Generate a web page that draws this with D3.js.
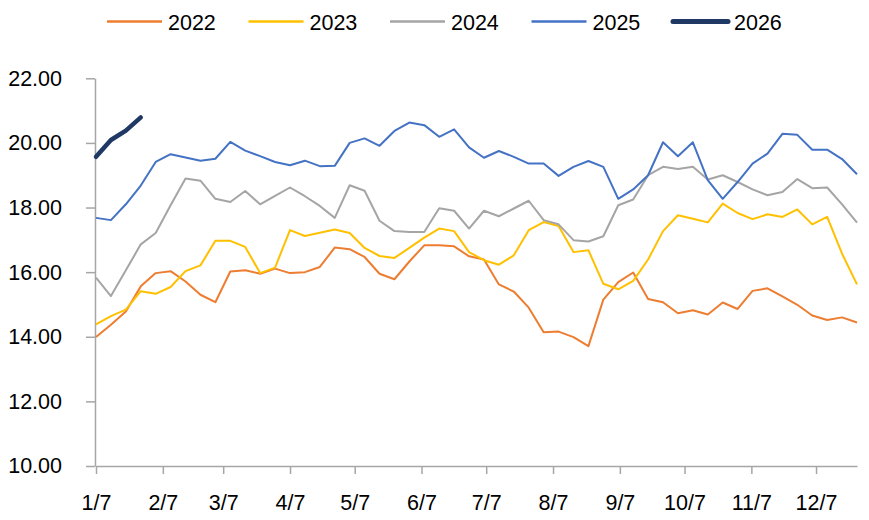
<!DOCTYPE html>
<html>
<head>
<meta charset="utf-8">
<script src="https://cdn.jsdelivr.net/npm/d3@7"></script>
<style>
  body { margin: 0; background: #fff; }
  svg text { font-family: "Liberation Sans", Arial, sans-serif; fill: #000; }
</style>
</head>
<body>
<div id="chart"></div>
<script>
// weekly values, one point per week starting 1/7
var years = ["2022", "2023", "2024", "2025", "2026"];
var colors = ["#ED7D31", "#FFC000", "#A5A5A5", "#4472C4", "#203864"];

var y2022 = [13.99,14.37,14.78,15.56,15.97,16.03,15.71,15.30,15.07,16.02,16.06,15.95,16.11,15.97,16.00,16.16,
  16.76,16.71,16.47,15.95,15.78,16.33,16.83,16.83,16.80,16.49,16.39,15.62,15.40,14.90,14.14,14.16,13.99,13.71,
  15.15,15.69,15.99,15.17,15.07,14.73,14.82,14.69,15.06,14.86,15.42,15.50,15.25,14.99,14.66,14.52,14.60,14.44];
var y2023 = [14.38,14.64,14.84,15.41,15.33,15.54,16.03,16.21,16.97,16.97,16.78,15.97,16.14,17.30,17.12,17.22,
  17.32,17.21,16.75,16.50,16.44,16.75,17.07,17.35,17.27,16.62,16.37,16.23,16.52,17.30,17.55,17.43,16.62,16.68,
  15.64,15.47,15.73,16.39,17.27,17.76,17.65,17.54,18.12,17.83,17.64,17.79,17.71,17.94,17.48,17.71,16.57,15.62];
var y2024 = [15.83,15.26,16.06,16.86,17.21,18.07,18.90,18.83,18.27,18.17,18.51,18.10,18.36,18.62,18.35,18.05,
  17.68,18.69,18.52,17.59,17.27,17.24,17.24,17.98,17.90,17.35,17.90,17.73,17.97,18.21,17.61,17.48,16.99,16.95,
  17.11,18.07,18.25,19.00,19.26,19.19,19.26,18.87,19.00,18.79,18.56,18.38,18.48,18.88,18.60,18.62,18.10,17.53];
var y2025 = [17.68,17.61,18.10,18.68,19.41,19.65,19.55,19.45,19.51,20.03,19.76,19.59,19.41,19.31,19.45,19.28,
  19.29,20.00,20.14,19.91,20.37,20.63,20.55,20.19,20.42,19.86,19.54,19.75,19.57,19.36,19.36,18.98,19.26,19.44,
  19.26,18.27,18.56,19.00,20.02,19.59,20.02,18.85,18.27,18.79,19.36,19.67,20.28,20.25,19.79,19.79,19.50,19.03];
var y2026 = [19.57,20.09,20.38,20.79];

var xTickLabels = ["1/7","2/7","3/7","4/7","5/7","6/7","7/7","8/7","9/7","10/7","11/7","12/7"];
var yTicks = [10, 12, 14, 16, 18, 20, 22];

var series = [y2022, y2023, y2024, y2025, y2026];

var width = 869, height = 520;
var plotLeft = 96, plotRight = 857, plotTop = 78.3, plotBottom = 466;

var svg = d3.select("#chart").append("svg")
  .attr("width", width).attr("height", height);

// date scale for month ticks, index scale for weekly points
var xTime = d3.scaleTime()
  .domain([new Date(2025, 0, 7), new Date(2025, 11, 26)])
  .range([plotLeft, plotRight]);
var xIdx = d3.scaleLinear().domain([0, 51]).range([plotLeft, plotRight]);
var y = d3.scaleLinear().domain([10, 22]).range([plotBottom, plotTop]);

var tickDates = xTickLabels.map(function(d, i){ return new Date(2025, i, 7); });

var xAxis = svg.append("g")
  .attr("transform", "translate(0," + plotBottom + ")")
  .call(d3.axisBottom(xTime)
    .tickValues(tickDates)
    .tickFormat(function(d, i){ return xTickLabels[i]; })
    .tickSize(8).tickSizeOuter(0).tickPadding(20.5));

var yAxis = svg.append("g")
  .attr("transform", "translate(" + (plotLeft - 1) + ",0)")
  .call(d3.axisLeft(y)
    .tickValues(yTicks)
    .tickFormat(d3.format(".2f"))
    .tickSize(9).tickSizeOuter(0).tickPadding(24));

[xAxis, yAxis].forEach(function(a){
  a.selectAll("path, line").attr("stroke", "#a6a6a6").attr("stroke-width", 1.5);
  a.selectAll("text").style("font-size", "21.5px").attr("fill", "#000");
});

var line = d3.line()
  .x(function(d, i){ return xIdx(i); })
  .y(function(d){ return y(d); });

svg.append("g").selectAll("path.series")
  .data(series)
  .enter().append("path")
  .attr("class", "series")
  .attr("fill", "none")
  .attr("stroke", function(d, i){ return colors[i]; })
  .attr("stroke-width", function(d, i){ return i == 4 ? 4.5 : 2; })
  .attr("stroke-linejoin", "round")
  .attr("stroke-linecap", function(d, i){ return i == 4 ? "round" : "butt"; })
  .attr("d", line);

// legend
var legend = svg.append("g").selectAll("g.leg")
  .data(years)
  .enter().append("g").attr("class", "leg")
  .attr("transform", function(d, i){ return "translate(" + (107 + i * 141.5) + ",21.5)"; });

legend.append("line")
  .attr("x1", 0).attr("x2", 55).attr("y1", 0).attr("y2", 0)
  .attr("stroke", function(d, i){ return colors[i]; })
  .attr("stroke-width", function(d, i){ return i == 4 ? 5 : 2.5; })
  .attr("stroke-linecap", function(d, i){ return i == 4 ? "round" : "butt"; });

legend.append("text")
  .attr("x", 61).attr("y", 8)
  .style("font-size", "21.5px")
  .text(function(d){ return d; });
</script>
</body>
</html>
